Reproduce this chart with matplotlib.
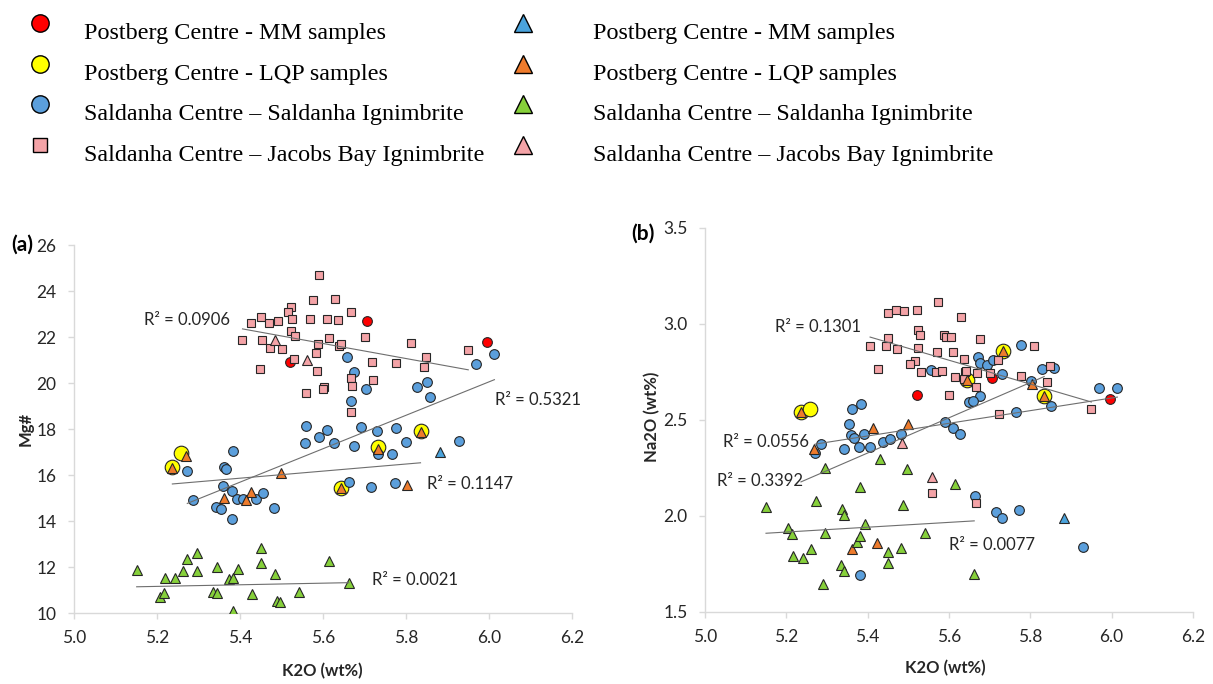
import numpy as np
import matplotlib
matplotlib.use("Agg")
import matplotlib.pyplot as plt
from matplotlib.lines import Line2D
from matplotlib.legend_handler import HandlerLine2D

# ---------------- panel (a): Mg# vs K2O ----------------
mm_k2o_a = [5.520, 5.705, 5.994]
mm_mg = [20.90, 22.70, 21.77]

lqp_k2o_a = [5.257, 5.237, 5.733, 5.643, 5.835]
lqp_mg = [16.94, 16.33, 17.20, 15.42, 17.90]

sal_k2o_a = [5.657, 5.675, 5.704, 5.667, 5.559, 5.609, 5.692, 5.731, 5.775, 5.590,
             5.557, 5.627, 5.675, 5.766, 5.732, 5.384, 5.273, 5.362, 5.366, 5.360,
             5.381, 5.393, 5.408, 5.438, 5.456, 5.286, 5.342, 5.354, 5.380, 5.482,
             5.663, 5.715, 5.773, 5.826, 5.850, 5.859, 5.968, 6.013, 5.801, 5.928]
sal_mg = [21.14, 20.49, 19.73, 19.22, 18.15, 17.96, 18.08, 17.90, 18.05, 17.64,
          17.38, 17.38, 17.26, 16.91, 16.90, 17.04, 16.19, 16.36, 16.26, 15.53,
          15.30, 14.94, 14.94, 14.94, 15.20, 14.91, 14.62, 14.51, 14.07, 14.55,
          15.71, 15.49, 15.67, 19.84, 20.06, 19.38, 20.83, 21.25, 17.45, 17.48]

jb_k2o_a = [5.591, 5.575, 5.630, 5.522, 5.516, 5.667, 5.427, 5.450, 5.470, 5.492,
            5.525, 5.569, 5.610, 5.635, 5.406, 5.452, 5.522, 5.533, 5.472, 5.502,
            5.587, 5.614, 5.638, 5.643, 5.700, 5.530, 5.583, 5.447, 5.586, 5.719,
            5.776, 5.667, 5.671, 5.603, 5.599, 5.721, 5.558, 5.667, 5.811, 5.950,
            5.848, 5.843]
jb_mg = [24.70, 23.61, 23.64, 23.29, 23.10, 23.10, 22.60, 22.88, 22.62, 22.71,
         22.77, 22.78, 22.77, 22.74, 21.87, 21.87, 22.27, 22.04, 21.53, 21.48,
         21.70, 21.96, 21.62, 21.70, 22.00, 21.03, 21.29, 20.60, 20.51, 20.93,
         20.86, 20.23, 19.87, 19.84, 19.73, 20.13, 19.55, 18.73, 21.75, 21.43,
         21.12, 20.71]

mm_tri_k2o_a = [5.882]
mm_tri_mg = [16.99]

lqp_tri_k2o_a = [5.269, 5.237, 5.499, 5.362, 5.426, 5.414, 5.733, 5.643, 5.835, 5.803]
lqp_tri_mg = [16.83, 16.29, 16.10, 14.99, 15.25, 14.91, 17.12, 15.42, 17.88, 15.57]

sal_tri_k2o_a = [5.151, 5.219, 5.243, 5.207, 5.218, 5.263, 5.273, 5.296, 5.296, 5.345,
                 5.336, 5.345, 5.373, 5.382, 5.394, 5.382, 5.451, 5.451, 5.484, 5.430,
                 5.488, 5.496, 5.541, 5.615, 5.662]
sal_tri_mg = [11.87, 11.54, 11.54, 10.71, 10.86, 11.84, 12.33, 12.59, 11.83, 12.01,
              10.93, 10.88, 11.47, 11.51, 11.90, 10.10, 12.81, 12.16, 11.68, 10.83,
              10.54, 10.47, 10.93, 12.27, 11.29]

jb_tri_k2o_a = [5.484, 5.561]
jb_tri_mg = [21.87, 21.00]

# ---------------- panel (b): Na2O vs K2O ----------------
mm_k2o_b = [5.521, 5.705, 5.996]
mm_na2o = [2.630, 2.720, 2.609]

lqp_k2o_b = [5.236, 5.257, 5.732, 5.645, 5.834]
lqp_na2o = [2.543, 2.557, 2.861, 2.708, 2.625]

sal_k2o_b = [5.555, 5.362, 5.383, 5.355, 5.358, 5.367, 5.391, 5.481, 5.590, 5.609,
             5.626, 5.285, 5.271, 5.342, 5.379, 5.406, 5.437, 5.455, 5.650, 5.380,
             5.663, 5.777, 5.671, 5.677, 5.693, 5.709, 5.731, 5.828, 5.859, 5.801,
             5.675, 5.659, 5.765, 5.851, 5.968, 6.014, 5.715, 5.731, 5.773, 5.929]
sal_na2o = [2.760, 2.557, 2.583, 2.479, 2.421, 2.404, 2.427, 2.427, 2.491, 2.456,
            2.427, 2.374, 2.329, 2.347, 2.357, 2.360, 2.383, 2.399, 2.595, 1.691,
            2.105, 2.891, 2.826, 2.795, 2.786, 2.812, 2.739, 2.765, 2.769, 2.704,
            2.625, 2.600, 2.543, 2.573, 2.668, 2.668, 2.018, 1.990, 2.030, 1.839]

jb_k2o_b = [5.572, 5.449, 5.470, 5.490, 5.521, 5.630, 5.523, 5.529, 5.588, 5.593,
            5.604, 5.451, 5.406, 5.446, 5.472, 5.523, 5.571, 5.611, 5.636, 5.517,
            5.503, 5.426, 5.531, 5.568, 5.584, 5.640, 5.615, 5.638, 5.600, 5.675,
            5.810, 5.642, 5.668, 5.701, 5.720, 5.777, 5.849, 5.842, 5.666, 5.722,
            5.950, 5.666, 5.559]
jb_na2o = [3.113, 3.059, 3.073, 3.068, 3.073, 3.038, 2.969, 2.943, 2.943, 2.934,
           2.931, 2.925, 2.887, 2.887, 2.868, 2.873, 2.856, 2.856, 2.816, 2.809,
           2.791, 2.764, 2.751, 2.751, 2.757, 2.751, 2.722, 2.712, 2.630, 2.920,
           2.887, 2.755, 2.746, 2.746, 2.812, 2.729, 2.781, 2.699, 2.670, 2.531,
           2.557, 2.065, 2.120]

mm_tri_k2o_b = [5.883]
mm_tri_na2o = [1.987]

lqp_tri_k2o_b = [5.236, 5.268, 5.412, 5.500, 5.361, 5.424, 5.732, 5.645, 5.805, 5.834]
lqp_tri_na2o = [2.540, 2.347, 2.456, 2.479, 1.825, 1.860, 2.861, 2.708, 2.687, 2.625]

sal_tri_k2o_b = [5.150, 5.203, 5.215, 5.216, 5.240, 5.261, 5.272, 5.289, 5.294, 5.295,
                 5.334, 5.343, 5.336, 5.342, 5.373, 5.380, 5.381, 5.393, 5.430, 5.449,
                 5.451, 5.482, 5.488, 5.496, 5.541, 5.615, 5.662]
sal_tri_na2o = [2.044, 1.935, 1.905, 1.792, 1.782, 1.825, 2.079, 1.644, 1.909, 2.248,
                1.743, 1.714, 2.034, 2.004, 1.865, 1.895, 2.149, 1.957, 2.295, 1.813,
                1.755, 1.831, 2.056, 2.244, 1.912, 2.166, 1.697]

jb_tri_k2o_b = [5.485, 5.559]
jb_tri_na2o = [2.381, 2.201]

# linear trendlines (slope, intercept) and their R2
fit_a_slope = [-3.27, 7.27, 1.54, 0.35]
fit_a_icpt = [40.03, -23.57, 7.545, 9.337]
fit_a_r2 = ["0.0906", "0.5321", "0.1147", "0.0021"]

fit_b_slope = [-0.622, 0.33, 0.918, 0.126]
fit_b_icpt = [6.294, 0.634, -2.630, 1.260]
fit_b_r2 = ["0.1301", "0.0556", "0.3392", "0.0077"]

labels = ["Postberg Centre - MM samples",
          "Postberg Centre - LQP samples",
          "Saldanha Centre \u2013 Saldanha Ignimbrite",
          "Saldanha Centre \u2013 Jacobs Bay Ignimbrite"]

RED = "#ff0000"
YEL = "#ffff00"
BLUE = "#5b9fdc"
PINK = "#f4a3a7"
ORANGE = "#ee7b2c"
GREEN = "#86d03a"
TRI_BLUE = "#4aa3dc"
EDGE = "#262626"
TXT = "#262626"
AXC = "#d9d9d9"

plt.rcParams["font.family"] = ["Lato", "DejaVu Sans"]

fig = plt.figure(figsize=(12.13, 6.84), dpi=100)
W, H = 1213.0, 684.0
ax_a = fig.add_axes([74 / W, 1 - 613 / H, 498 / W, 368 / H])
ax_b = fig.add_axes([705 / W, 1 - 611.7 / H, 488 / W, 383.7 / H])


def pts(ax, x, y, marker, color, ms, z):
    ax.plot(x, y, linestyle="none", marker=marker, markersize=ms,
            markerfacecolor=color, markeredgecolor=EDGE, markeredgewidth=0.8,
            zorder=z)


def trend(ax, x, m, c):
    xs = np.array([min(x), max(x)])
    ax.plot(xs, m * xs + c, color="#6e6e6e", lw=0.8, zorder=10)


def style(ax, ylim, yticks):
    ax.set_xlim(5.0, 6.2)
    ax.set_ylim(*ylim)
    ax.set_xticks(np.arange(5.0, 6.21, 0.2))
    ax.set_xticklabels(["%.1f" % v for v in np.arange(5.0, 6.21, 0.2)])
    ax.set_yticks(yticks)
    for s in ["top", "right"]:
        ax.spines[s].set_visible(False)
    for s in ["left", "bottom"]:
        ax.spines[s].set_color(AXC)
        ax.spines[s].set_linewidth(1.0)
    ax.tick_params(axis="both", direction="out", length=4.5, width=1.0,
                   color=AXC, labelsize=12.5, labelcolor=TXT)
    ax.tick_params(axis="y", pad=8)
    ax.tick_params(axis="x", pad=8)


# panel (a)
pts(ax_a, mm_k2o_a, mm_mg, "o", RED, 7, 3)
pts(ax_a, lqp_k2o_a, lqp_mg, "o", YEL, 10.5, 4)
pts(ax_a, sal_k2o_a, sal_mg, "o", BLUE, 7, 5)
pts(ax_a, jb_k2o_a, jb_mg, "s", PINK, 6.3, 6)
pts(ax_a, mm_tri_k2o_a, mm_tri_mg, "^", TRI_BLUE, 7, 7)
pts(ax_a, lqp_tri_k2o_a, lqp_tri_mg, "^", ORANGE, 7, 8)
pts(ax_a, sal_tri_k2o_a, sal_tri_mg, "^", GREEN, 7, 9)
pts(ax_a, jb_tri_k2o_a, jb_tri_mg, "^", PINK, 7, 9)

fit_a_x = [jb_k2o_a, sal_k2o_a, lqp_tri_k2o_a, sal_tri_k2o_a]
for x, m, c in zip(fit_a_x, fit_a_slope, fit_a_icpt):
    trend(ax_a, x, m, c)
r2_pos_a = [(5.168, 22.72), (6.015, 19.26), (5.850, 15.62), (5.718, 11.45)]
for (tx, ty), r in zip(r2_pos_a, fit_a_r2):
    ax_a.text(tx, ty, "R\u00b2 = " + r, fontsize=12, color=TXT,
              ha="left", va="center", zorder=12)

style(ax_a, (10, 26), np.arange(10, 27, 2))
ax_a.set_ylabel("Mg#", fontsize=12, fontweight="bold", color=TXT)
ax_a.yaxis.set_label_coords(-0.082, 0.5)
ax_a.set_xlabel("K2O (wt%)", fontsize=12, fontweight="bold", color=TXT)
ax_a.xaxis.set_label_coords(0.498, -0.135)

# panel (b)
pts(ax_b, mm_k2o_b, mm_na2o, "o", RED, 7, 3)
pts(ax_b, lqp_k2o_b, lqp_na2o, "o", YEL, 10.5, 4)
pts(ax_b, sal_k2o_b, sal_na2o, "o", BLUE, 7, 5)
pts(ax_b, jb_k2o_b, jb_na2o, "s", PINK, 6.3, 6)
pts(ax_b, mm_tri_k2o_b, mm_tri_na2o, "^", TRI_BLUE, 7, 7)
pts(ax_b, lqp_tri_k2o_b, lqp_tri_na2o, "^", ORANGE, 7, 8)
pts(ax_b, sal_tri_k2o_b, sal_tri_na2o, "^", GREEN, 7, 9)
pts(ax_b, jb_tri_k2o_b, jb_tri_na2o, "^", PINK, 7, 9)

fit_b_x = [jb_k2o_b, sal_k2o_b, lqp_tri_k2o_b, sal_tri_k2o_b]
for x, m, c in zip(fit_b_x, fit_b_slope, fit_b_icpt):
    trend(ax_b, x, m, c)
r2_pos_b = [(5.172, 2.986), (5.044, 2.386), (5.030, 2.183), (5.600, 1.848)]
for (tx, ty), r in zip(r2_pos_b, fit_b_r2):
    ax_b.text(tx, ty, "R\u00b2 = " + r, fontsize=12, color=TXT,
              ha="left", va="center", zorder=12)

style(ax_b, (1.5, 3.5), np.arange(1.5, 3.51, 0.5))
ax_b.set_yticklabels(["%.1f" % v for v in np.arange(1.5, 3.51, 0.5)])
ax_b.set_ylabel("Na2O (wt%)", fontsize=12, fontweight="bold", color=TXT)
ax_b.yaxis.set_label_coords(-0.092, 0.507)
ax_b.set_xlabel("K2O (wt%)", fontsize=12, fontweight="bold", color=TXT)
ax_b.xaxis.set_label_coords(0.492, -0.125)

fig.text(11 / W, 1 - 245 / H, "(a)", fontsize=15, fontweight="bold",
         color="black", ha="left", va="center")
fig.text(631 / W, 1 - 234 / H, "(b)", fontsize=15, fontweight="bold",
         color="black", ha="left", va="center")


# legend: circles/square on the left, triangles on the right;
# the symbols sit a little above the middle of each text line
class RaisedHandler(HandlerLine2D):
    def create_artists(self, legend, orig_handle, xdescent, ydescent,
                       width, height, fontsize, trans):
        arts = super().create_artists(legend, orig_handle, xdescent, ydescent,
                                      width, height, fontsize, trans)
        for a in arts:
            a.set_ydata(np.asarray(a.get_ydata(), dtype=float) + 0.45 * height)
        return arts


def h(marker, color, ms):
    return Line2D([], [], linestyle="none", marker=marker, markersize=ms,
                  markerfacecolor=color, markeredgecolor="black",
                  markeredgewidth=1.0)


left_h = [h("o", RED, 12.5), h("o", YEL, 12.5), h("o", BLUE, 12.5),
          h("s", PINK, 10)]
right_h = [h("^", TRI_BLUE, 13), h("^", ORANGE, 13), h("^", GREEN, 13),
           h("^", PINK, 13)]
leg_kw = dict(loc="upper left", frameon=False, borderpad=0, borderaxespad=0,
              handlelength=1.0, labelspacing=0.78,
              handler_map={Line2D: RaisedHandler()},
              prop={"family": "Liberation Serif", "size": 17.4})
fig.legend(left_h, labels, bbox_to_anchor=(27.9 / W, 1 - 22 / H),
           handletextpad=1.32, **leg_kw)
fig.legend(right_h, labels, bbox_to_anchor=(510.9 / W, 1 - 22 / H),
           handletextpad=2.39, **leg_kw)

fig.savefig("out.png", dpi=100)
